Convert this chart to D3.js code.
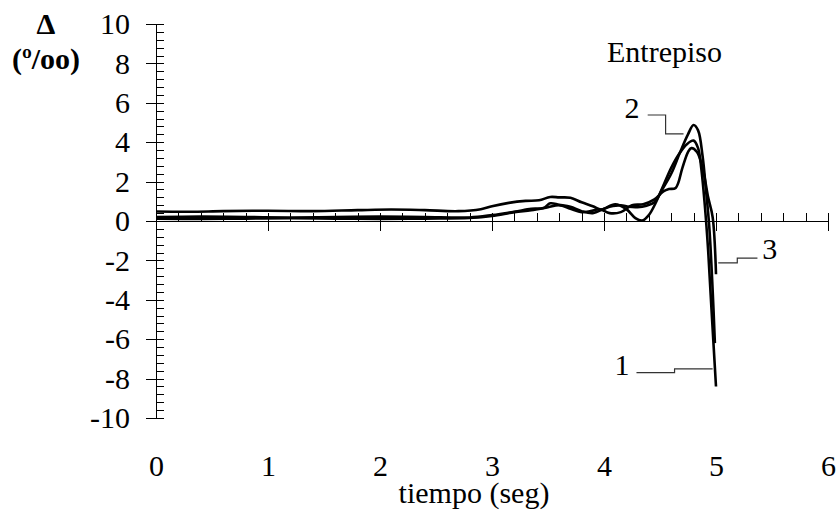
<!DOCTYPE html>
<html>
<head>
<meta charset="utf-8">
<script src="https://cdn.jsdelivr.net/npm/d3@7"></script>
<style>
  body { margin: 0; background: #fff; }
  svg text { font-family: "Liberation Serif", "Times New Roman", Times, serif !important; fill: #000; }
</style>
</head>
<body>
<div id="chart"></div>
<script>
// drift per storey (Entrepiso 1, 2, 3)
let time1  = [0, 0.4, 0.8, 1.2, 1.6, 2.0, 2.4, 2.8, 3.0, 3.2, 3.35, 3.46, 3.52, 3.6, 3.7, 3.8, 3.9, 4.0, 4.1, 4.2, 4.28, 4.34, 4.4, 4.46, 4.53, 4.6, 4.67, 4.74, 4.8, 4.84, 4.87, 4.9, 4.93, 4.96, 5.0];
let drift1 = [0.2, 0.22, 0.2, 0.18, 0.2, 0.22, 0.2, 0.18, 0.3, 0.47, 0.62, 0.66, 0.9, 0.82, 0.72, 0.5, 0.4, 0.62, 0.85, 0.6, 0.15, 0.02, 0.3, 0.9, 1.8, 2.7, 3.4, 3.9, 4.08, 3.7, 2.6, 0.8, -1.5, -4.5, -8.4];

let time2  = [0, 0.3, 0.6, 1.0, 1.4, 1.8, 2.1, 2.4, 2.7, 2.9, 3.0, 3.15, 3.3, 3.42, 3.52, 3.6, 3.7, 3.8, 3.9, 3.97, 4.05, 4.15, 4.22, 4.3, 4.38, 4.45, 4.52, 4.6, 4.68, 4.75, 4.8, 4.84, 4.88, 4.91, 4.94, 4.97, 4.99];
let drift2 = [0.48, 0.47, 0.5, 0.52, 0.5, 0.55, 0.58, 0.55, 0.5, 0.6, 0.75, 0.92, 1.02, 1.05, 1.22, 1.2, 1.18, 0.95, 0.75, 0.58, 0.72, 0.8, 0.72, 0.7, 0.78, 0.95, 1.6, 2.4, 3.5, 4.4, 4.87, 4.6, 3.3, 1.6, -0.3, -3.5, -6.2];

let time3  = [0, 0.4, 0.8, 1.2, 1.6, 2.0, 2.4, 2.8, 3.0, 3.2, 3.35, 3.5, 3.6, 3.7, 3.8, 3.88, 3.96, 4.05, 4.15, 4.25, 4.35, 4.45, 4.53, 4.58, 4.64, 4.7, 4.75, 4.78, 4.83, 4.88, 4.93, 4.97, 5.0];
let drift3 = [0.12, 0.1, 0.12, 0.14, 0.12, 0.1, 0.12, 0.15, 0.25, 0.45, 0.55, 0.7, 0.8, 0.62, 0.45, 0.5, 0.6, 0.4, 0.45, 0.8, 0.85, 1.1, 1.5, 1.62, 1.68, 2.7, 3.5, 3.7, 3.5, 2.7, 1.2, 0.2, -2.7];

let xTicks = [0, 1, 2, 3, 4, 5, 6];
let yTicks = [-10, -8, -6, -4, -2, 0, 2, 4, 6, 8, 10];

// curve labels: name, text anchor point and leader line (in data units)
let curveNames = ["1", "2", "3"];
let labelPos = [[4.16, -7.82], [4.25, 5.23], [5.48, -1.93]];
let leaders = [
    [[4.29, -7.70], [4.63, -7.70], [4.63, -7.51], [4.97, -7.51]],
    [[4.39, 5.38], [4.55, 5.38], [4.55, 4.42], [4.71, 4.42]],
    [[5.02, -2.13], [5.19, -2.13], [5.19, -1.88], [5.37, -1.88]]
];

let svgWidth = 837;
let svgHeight = 514;
let margin = { top: 24, right: 9, bottom: 96, left: 156 };
let chartWidth = svgWidth - margin.left - margin.right;
let chartHeight = svgHeight - margin.top - margin.bottom;

let svg = d3.select("#chart")
    .append("svg")
    .attr("width", svgWidth)
    .attr("height", svgHeight);

let chartGroup = svg.append("g")
    .attr("transform", `translate(${margin.left}, ${margin.top})`);

let x = d3.scaleLinear().domain([0, 6]).range([0, chartWidth]);
let y = d3.scaleLinear().domain([-10, 10]).range([chartHeight, 0]);

let fontSize = 30;
let serif = '"Liberation Serif", "Times New Roman", Times, serif';
let plain = d => String(d);

// y axis: minor ticks to the right, major ticks to the left with labels
let yMinor = d3.range(-25, 26).map(k => k * 2 / 5);
chartGroup.append("g")
    .attr("class", "axis")
    .call(d3.axisRight(y).tickValues(yMinor).tickSize(8).tickSizeOuter(0).tickFormat(""));
chartGroup.append("g")
    .attr("class", "axis")
    .call(d3.axisLeft(y).tickValues(yTicks).tickSize(10).tickSizeOuter(0).tickPadding(16).tickFormat(plain))
    .call(g => g.select(".domain").remove())
    .attr("font-family", serif)
    .attr("font-size", fontSize);

// x axis drawn through zero
let xMinor = d3.range(0, 31).map(k => k / 5);
chartGroup.append("g")
    .attr("class", "axis")
    .attr("transform", `translate(0, ${y(0)})`)
    .call(d3.axisTop(x).tickValues(xMinor).tickSize(8).tickSizeOuter(0).tickFormat(""));
chartGroup.append("g")
    .attr("class", "axis")
    .attr("transform", `translate(0, ${y(0)})`)
    .call(d3.axisBottom(x).tickValues(xTicks).tickSize(10).tickSizeOuter(0).tickFormat(""))
    .call(g => g.select(".domain").remove());

// x tick labels sit under the plot
chartGroup.append("g")
    .attr("transform", `translate(0, ${chartHeight + 37})`)
    .call(d3.axisBottom(x).tickValues(xTicks).tickSize(0).tickPadding(0).tickFormat(plain))
    .call(g => g.select(".domain").remove())
    .attr("font-family", serif)
    .attr("font-size", fontSize);

svg.selectAll(".axis path, .axis line")
    .attr("stroke", "#000")
    .attr("stroke-width", 1)
    .attr("shape-rendering", "crispEdges");

// curves
let series = [
    d3.zip(time1, drift1),
    d3.zip(time2, drift2),
    d3.zip(time3, drift3)
];
let line = d3.line()
    .x(d => x(d[0]))
    .y(d => y(d[1]))
    .curve(d3.curveCatmullRom.alpha(0.5));

chartGroup.selectAll(".drift")
    .data(series)
    .enter()
    .append("path")
    .attr("class", "drift")
    .attr("d", line)
    .attr("fill", "none")
    .attr("stroke", "#000")
    .attr("stroke-width", 2.6)
    .attr("stroke-linejoin", "round");

// leader lines and curve numbers
let leaderLine = d3.line().x(d => x(d[0])).y(d => y(d[1]));
chartGroup.selectAll(".leader")
    .data(leaders)
    .enter()
    .append("path")
    .attr("d", leaderLine)
    .attr("fill", "none")
    .attr("stroke", "#333")
    .attr("stroke-width", 1.2);

chartGroup.selectAll(".curveName")
    .data(curveNames)
    .enter()
    .append("text")
    .attr("x", (d, i) => x(labelPos[i][0]))
    .attr("y", (d, i) => y(labelPos[i][1]))
    .attr("text-anchor", "middle")
    .attr("font-size", fontSize)
    .text(d => d);

// titles
svg.append("text")
    .attr("x", 46).attr("y", 34)
    .attr("text-anchor", "middle")
    .attr("font-size", fontSize)
    .attr("font-weight", "bold")
    .text("Δ");
svg.append("text")
    .attr("x", 46).attr("y", 69)
    .attr("text-anchor", "middle")
    .attr("font-size", fontSize)
    .attr("font-weight", "bold")
    .text("(º/oo)");
svg.append("text")
    .attr("x", 607).attr("y", 62)
    .attr("font-size", fontSize)
    .text("Entrepiso");
svg.append("text")
    .attr("x", 474).attr("y", 503)
    .attr("text-anchor", "middle")
    .attr("font-size", fontSize)
    .text("tiempo (seg)");
</script>
</body>
</html>
